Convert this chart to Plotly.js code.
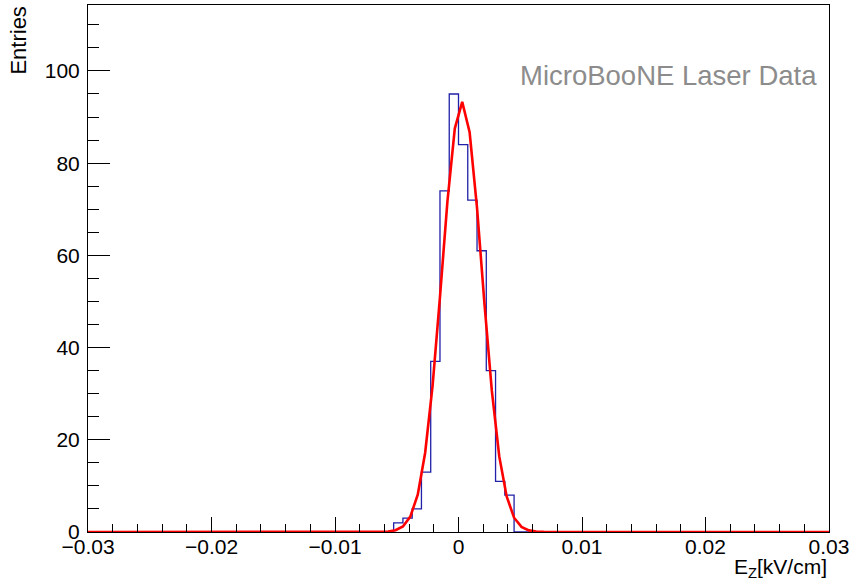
<!DOCTYPE html>
<html>
<head>
<meta charset="utf-8">
<script src="https://cdn.plot.ly/plotly-3.0.1.min.js"></script>
<style>html,body{margin:0;padding:0;background:#fff;}#plot{width:851px;height:583px;}</style>
</head>
<body>
<div id="plot"></div>
<script>
// Histogram bins (width 0.00075 kV/cm), non-empty region
const binEdges = [-0.00525, -0.0045, -0.00375, -0.003, -0.00225, -0.0015, -0.00075, 0, 0.00075, 0.0015, 0.00225, 0.003, 0.00375, 0.0045];
const binCounts = [2, 3, 5, 13, 37, 74, 95, 84, 72, 61, 35, 11, 8];
const xRange = [-0.03, 0.03];

// Gaussian fit curve
const fitX = [-0.03, -0.0069, -0.0063, -0.0057, -0.0051, -0.0045, -0.0039, -0.0033, -0.0027, -0.0021, -0.0015, -0.0009, -0.0003, 0.0003, 0.0009, 0.0015, 0.0021, 0.0027, 0.0033, 0.0039, 0.0045, 0.0051, 0.0057, 0.0063, 0.0069, 0.03];
const fitY = [0, 0.01, 0.02, 0.10, 0.38, 1.2, 3.35, 8.1, 17.2, 31.7, 51.0, 71.6, 87.5, 93.3, 86.7, 70.3, 49.6, 30.6, 16.4, 7.7, 3.1, 1.1, 0.35, 0.09, 0.02, 0];

const xTickVals = [-0.03, -0.02, -0.01, 0, 0.01, 0.02, 0.03];
const xTickText = ["\u22120.03", "\u22120.02", "\u22120.01", "0", "0.01", "0.02", "0.03"];
const yTickVals = [0, 20, 40, 60, 80, 100];

const histX = [xRange[0]].concat(binEdges, [xRange[1]]);
const histY = [0].concat(binCounts, [0, 0]);

const font = "Liberation Sans, Arial, Helvetica, sans-serif";

const traces = [
  {x: histX, y: histY, type: 'scatter', mode: 'lines', line: {shape: 'hv', color: '#2020a8', width: 1.3}, hoverinfo: 'skip'},
  {x: fitX, y: fitY, type: 'scatter', mode: 'lines', line: {color: '#ff0000', width: 2.6}, hoverinfo: 'skip'}
];

const layout = {
  width: 851, height: 583,
  margin: {l: 88, r: 22, t: 5, b: 51},
  paper_bgcolor: '#fff', plot_bgcolor: '#fff',
  showlegend: false,
  font: {family: font, size: 21, color: '#000'},
  xaxis: {
    range: xRange, showgrid: false, zeroline: false,
    showline: true, mirror: true, linecolor: '#000', linewidth: 1,
    ticks: 'inside', ticklen: 15, tickcolor: '#000', tickwidth: 1,
    tickvals: xTickVals, ticktext: xTickText,
    minor: {ticks: 'inside', ticklen: 8, dtick: 0.002, tick0: 0, tickcolor: '#000', showgrid: false},
    tickfont: {family: font, size: 21},
    ticklabelstandoff: -4
  },
  yaxis: {
    range: [0, 114.3], showgrid: false, zeroline: false,
    showline: true, mirror: true, linecolor: '#000', linewidth: 1,
    ticks: 'inside', ticklen: 22, tickcolor: '#000', tickwidth: 1,
    tickvals: yTickVals,
    minor: {ticks: 'inside', ticklen: 11, dtick: 5, tick0: 0, tickcolor: '#000', showgrid: false},
    tickfont: {family: font, size: 21},
    ticklabelstandoff: 3
  },
  annotations: [
    {text: 'MicroBooNE Laser Data', xref: 'paper', yref: 'paper', x: 0.9865, y: 0.867, xanchor: 'right', yanchor: 'middle', showarrow: false, font: {family: font, size: 27.5, color: '#8c8c8c'}},
    {text: 'Entries', xref: 'paper', yref: 'paper', x: -0.095, y: 1.0, xanchor: 'center', yanchor: 'top', textangle: -90, showarrow: false, font: {family: font, size: 22, color: '#000'}},
    {text: 'E<sub>Z</sub>[kV/cm]', xref: 'paper', yref: 'paper', x: 1.0, y: -0.04, xanchor: 'right', yanchor: 'top', showarrow: false, font: {family: font, size: 21, color: '#000'}}
  ]
};

Plotly.newPlot('plot', traces, layout, {displayModeBar: false, staticPlot: true});
</script>
</body>
</html>
